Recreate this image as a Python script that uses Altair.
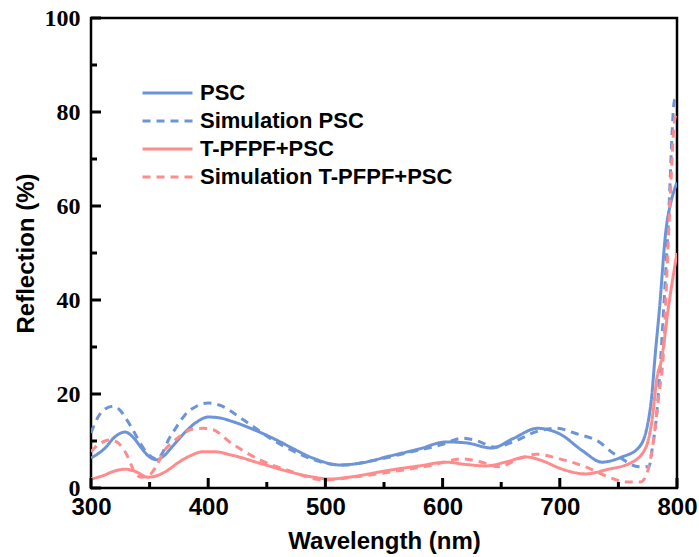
import altair as alt
import pandas as pd

# ---- data ----
psc_wl = [300, 312, 320, 329, 337, 343, 350, 356, 362, 369, 380, 390, 400, 410, 420, 440, 460, 470, 490, 512, 530, 555, 580, 603, 620, 642, 660, 681, 700, 720, 736, 753, 767, 774.5, 778.7, 781, 785, 790.6, 795, 800]
psc_r = [6.4, 8.5, 10.8, 11.9, 10.5, 8.5, 6.6, 6.0, 6.8, 8.7, 11.8, 14.0, 15.1, 14.9, 14.2, 12.3, 10.0, 8.7, 6.3, 4.9, 5.3, 6.8, 8.3, 9.8, 9.6, 8.5, 10.5, 12.7, 11.5, 7.8, 5.5, 6.6, 8.5, 13.0, 20.2, 27.2, 38.0, 54.9, 61.0, 65.0]

sim_psc_wl = [300, 306, 312, 319, 325, 329, 335, 341, 348, 356, 361, 366, 373, 380, 390, 400, 410, 430, 458, 480, 500, 515, 540, 570, 600, 617, 630, 644, 660, 680, 697, 715, 733.6, 745, 750.6, 767.6, 776, 778.7, 783, 786, 792.3, 798, 800]
sim_psc_r = [11.7, 15.1, 16.8, 17.4, 16.5, 15.1, 12.7, 10.0, 7.4, 6.2, 7.5, 10.2, 13.0, 15.5, 17.4, 18.1, 17.6, 14.5, 9.8, 7.0, 5.3, 4.9, 5.8, 7.5, 9.3, 10.6, 10.0, 8.7, 9.8, 12.0, 12.7, 11.5, 9.8, 7.5, 6.6, 4.5, 4.5, 8.1, 16.6, 27.2, 54.9, 82.6, 83.0]

tp_wl = [300, 310, 320, 329, 338, 348.6, 356, 365.6, 375, 386, 395, 405.6, 420, 445, 470, 490, 504, 520, 555, 580, 603, 620, 637, 655, 671, 685, 700, 722, 740, 761.7, 773.6, 778.7, 783, 786.7, 793, 800]
tp_r = [1.9, 2.6, 3.6, 4.0, 3.5, 2.3, 2.6, 3.8, 5.5, 7.0, 7.7, 7.7, 7.0, 5.2, 3.4, 2.3, 1.9, 2.3, 3.8, 4.7, 5.5, 5.0, 4.7, 5.6, 6.6, 5.8, 4.2, 3.0, 3.9, 5.5, 8.7, 14.5, 23.6, 27.2, 39.0, 50.0]

sim_tp_wl = [300, 306, 312, 316, 322, 327, 331.5, 337.5, 343, 350, 356, 363, 370, 377.5, 386, 395, 403, 420, 444, 470, 498, 520, 555, 590, 617, 632, 648, 665, 680, 700, 722, 742, 756.5, 769, 776, 780.4, 784.7, 788, 793, 798, 800]
sim_tp_r = [7.7, 9.2, 10.0, 10.2, 9.8, 8.5, 6.6, 3.2, 2.3, 2.8, 4.8, 8.1, 9.8, 11.3, 12.5, 12.7, 12.5, 9.5, 6.0, 3.6, 1.7, 2.2, 3.4, 4.8, 6.2, 5.6, 4.5, 6.2, 7.2, 6.2, 4.5, 2.3, 1.3, 1.3, 4.5, 10.9, 20.2, 27.2, 55.0, 78.3, 80.0]

series_names = ["PSC", "Simulation PSC", "T-PFPF+PSC", "Simulation T-PFPF+PSC"]
series_colors = ["#6C94D6", "#6C94D6", "#FF8C8C", "#FF8C8C"]
series_dash = [[1, 0], [8, 6], [1, 0], [8, 6]]

x_major = [300, 400, 500, 600, 700, 800]
x_minor = [350, 450, 550, 650, 750]
y_major = [0, 20, 40, 60, 80, 100]
y_minor = [10, 30, 50, 70, 90]

frames = []
for name, wl, r in [(series_names[0], psc_wl, psc_r), (series_names[1], sim_psc_wl, sim_psc_r),
                    (series_names[2], tp_wl, tp_r), (series_names[3], sim_tp_wl, sim_tp_r)]:
    frames.append(pd.DataFrame({"wl": wl, "r": r, "series": name, "kind": "line"}))
# tick rows share the same table so that they draw with the same scales
tick_rows = (
    [{"wl": v, "r": 0.0, "series": None, "kind": "xmaj"} for v in x_major]
    + [{"wl": v, "r": 0.0, "series": None, "kind": "xmin"} for v in x_minor]
    + [{"wl": 300.0, "r": v, "series": None, "kind": "ymaj"} for v in y_major]
    + [{"wl": 300.0, "r": v, "series": None, "kind": "ymin"} for v in y_minor]
)
df = pd.concat(frames + [pd.DataFrame(tick_rows)], ignore_index=True)

W, H = 586, 470
SANS = "Liberation Sans"
SERIF = "Liberation Serif"
XS = alt.Scale(domain=[300, 800], nice=False, zero=False)
YS = alt.Scale(domain=[0, 100], nice=False, zero=True)

leg = dict(title=None, orient="none", legendX=50, legendY=64,
           symbolType="stroke", symbolSize=2500, symbolStrokeWidth=3, clipHeight=22,
           labelFont=SANS, labelFontWeight="bold", labelFontSize=22,
           labelColor="black", labelLimit=400, rowPadding=6, labelOffset=6, padding=0)

base = alt.Chart(df)

lines = base.mark_line(strokeWidth=3, interpolate="monotone", clip=True).encode(
    x=alt.X("wl:Q", scale=XS,
            axis=alt.Axis(title="Wavelength (nm)", values=x_major, ticks=False, tickSize=0,
                          domain=False, grid=False, labelFlush=False, labelFont=SANS,
                          labelFontWeight="bold", labelFontSize=24, labelColor="black",
                          labelPadding=7, titleFont=SANS, titleFontWeight="bold",
                          titleFontSize=24, titleColor="black", titlePadding=10)),
    y=alt.Y("r:Q", scale=YS,
            axis=alt.Axis(title="Reflection (%)", values=y_major, ticks=False, tickSize=0,
                          domain=False, grid=False, labelFlush=False, labelFont=SERIF,
                          labelFontWeight="bold", labelFontSize=24, labelColor="black",
                          labelPadding=11, titleFont=SANS, titleFontWeight="bold",
                          titleFontSize=24, titleColor="black", titlePadding=6)),
    color=alt.Color("series:N", scale=alt.Scale(domain=series_names, range=series_colors),
                    legend=alt.Legend(**leg)),
    strokeDash=alt.StrokeDash("series:N", scale=alt.Scale(domain=series_names, range=series_dash),
                              legend=alt.Legend(**leg)),
).transform_filter("datum.kind === 'line'")


def x_ticks(kind, size):
    return base.transform_filter(f"datum.kind === '{kind}'").mark_rule(
        color="black", strokeWidth=3).encode(
        x=alt.X("wl:Q"), y=alt.value(H), y2=alt.value(H - size))


def y_ticks(kind, size):
    return base.transform_filter(f"datum.kind === '{kind}'").mark_rule(
        color="black", strokeWidth=3).encode(
        y=alt.Y("r:Q"), x=alt.value(0), x2=alt.value(size))


chart = alt.layer(
    lines,
    x_ticks("xmaj", 10), x_ticks("xmin", 6),
    y_ticks("ymaj", 10), y_ticks("ymin", 6),
).properties(
    width=W, height=H,
    autosize=alt.AutoSizeParams(type="none"),
    padding={"left": 91, "top": 18, "right": 22, "bottom": 69},
    background="white",
).configure_view(stroke="black", strokeWidth=2.5)

chart.save("out.html", embed_options={"renderer": "svg", "actions": False})
